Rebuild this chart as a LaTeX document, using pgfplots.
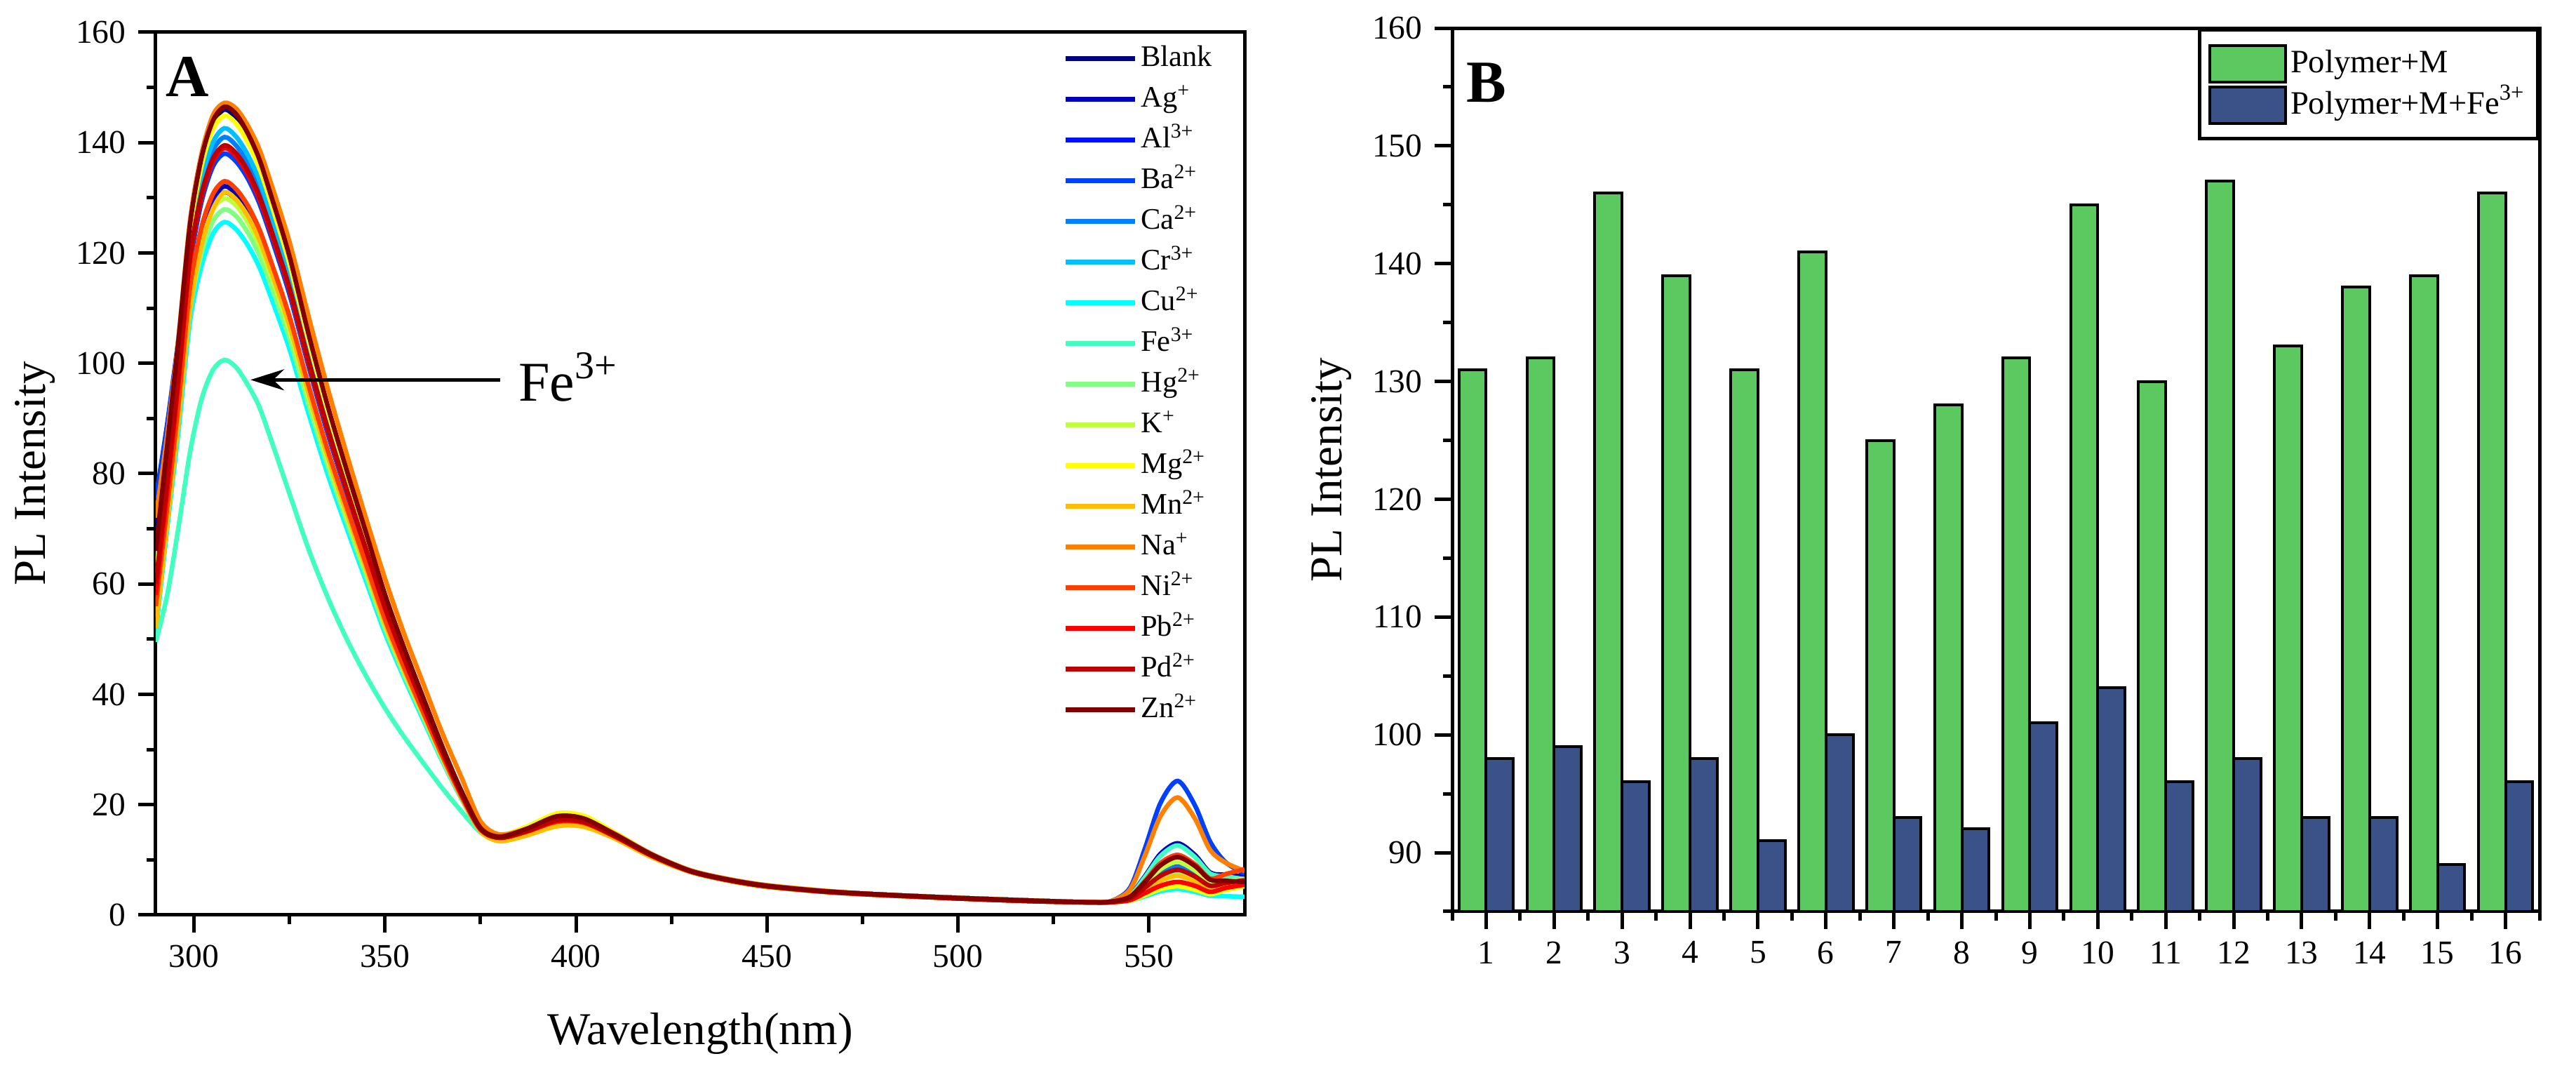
\documentclass[border=0pt]{standalone}
\usepackage{fontspec}
\setmainfont{Liberation Serif}
\usepackage{pgfplots}
\usepackage{pgfplotstable}
\pgfplotsset{compat=1.18}
\usetikzlibrary{arrows.meta}

\definecolor{cBlank}{HTML}{000080}
\definecolor{cAg}{HTML}{0000BF}
\definecolor{cAl}{HTML}{0010FF}
\definecolor{cBa}{HTML}{0040FF}
\definecolor{cCa}{HTML}{0080FF}
\definecolor{cCr}{HTML}{00BFFF}
\definecolor{cCu}{HTML}{00FFFF}
\definecolor{cFe}{HTML}{40FFBF}
\definecolor{cHg}{HTML}{80FF80}
\definecolor{cK}{HTML}{BFFF40}
\definecolor{cMg}{HTML}{FFFF00}
\definecolor{cMn}{HTML}{FFBF00}
\definecolor{cNa}{HTML}{FF8000}
\definecolor{cNi}{HTML}{FF4000}
\definecolor{cPb}{HTML}{FF0000}
\definecolor{cPd}{HTML}{BF0000}
\definecolor{cZn}{HTML}{800000}
\definecolor{bgreen}{HTML}{5CC860}
\definecolor{bblue}{HTML}{3B5288}

\pgfplotstableread{
x Blank Ag Al Ba Ca Cr Cu Fe Hg K Mg Mn Na Ni Pb Pd Zn
290 70 68 66 75.5 64 62 51 49.5 54 55 61 52 72 56 58 60 66
293 86 79 78 89 82 81 70 58 72 73 81 71 87 74 77 78.5 85
296 103.5 95 94 104.5 100.5 100.5 88 70.5 90 91.5 101.5 90 105 93 97 98 104.5
299 124.8 113.1 112.2 118.5 120.6 121.9 107.7 84 109.7 111.3 123.9 110 126 113.9 118.9 119.4 125.3
302 136.8 123.8 122.8 129.3 132.1 133.5 117.7 93.5 120 121.8 135.8 121.5 138 124.7 130.2 130.7 137.3
305 143.5 129.8 128.8 135.7 138.6 140.1 123.5 98.8 125.8 127.8 142.5 128 145 130.7 136.6 137.1 144
308 146 132.1 131 138 141 142.6 125.6 100.6 127.9 129.9 144.9 131 147.2 133 139 139.5 146.5
311 144.5 130.7 129.7 136.6 139.5 141.1 124.3 99.3 126.7 128.6 143.5 129.7 146.2 131.6 137.6 138.1 145.2
314 141.2 127.8 126.8 133.6 136.4 137.9 121.5 96.2 123.8 125.7 140.2 126.8 143.2 128.7 134.4 135 141.8
317 136.6 123.6 122.6 129.2 131.9 133.4 117.6 92.3 119.8 121.6 135.6 122.6 139 124.5 130 130.5 137.2
320 130.3 118 117.1 123.3 125.9 127.3 112.3 86.5 114.4 116.1 129.4 117.1 133 118.8 124.1 124.6 130.8
325 118.9 107.8 106.9 112.5 114.9 116.1 102.6 76.4 104.5 106.1 118 106.9 122 108.5 113.3 113.7 119.4
330 104.9 95.3 94.6 99.5 101.5 102.6 90.9 66.3 92.5 93.9 104.2 94.6 108.5 96 100.1 100.5 105.3
335 92 83.8 83.2 87.3 89 90 79.9 57.6 81.4 82.5 91.4 83.2 95.5 84.3 87.9 88.2 92.3
340 80.4 73.4 72.9 76.4 77.9 78.7 70.1 50.0 71.3 72.3 79.9 72.9 83.5 73.9 76.9 77.1 80.6
345 69.2 63.3 62.9 65.8 67.1 67.7 60.6 43.4 61.6 62.5 68.7 62.9 72 63.7 66.2 66.4 69.4
350 57.9 53.3 52.9 55.3 56.3 56.8 51.1 37.5 51.9 52.6 57.6 52.9 61 53.6 55.6 55.8 58.1
355 48.3 44.7 44.4 46.2 47 47.4 43 32.3 43.6 44.1 48 44.4 51 44.9 46.5 46.6 48.4
360 39.3 36.7 36.5 37.8 38.4 38.7 35.4 27.6 35.9 36.3 39.1 36.5 42 36.8 38 38.1 39.4
365 30.5 28.8 28.6 29.5 29.9 30.1 27.9 23 28.2 28.5 30.4 28.6 33 28.9 29.6 29.7 30.5
370 22.4 21.6 21.5 21.9 22.1 22.2 21.1 18.8 21.3 21.4 22.4 21.3 25 21.6 22 22 22.5
375 15.8 15.6 15.6 15.7 15.7 15.7 15.3 15 15.5 15.5 15.9 15.2 17 15.5 15.6 15.6 15.8
380 14.2 14.1 14.1 14.2 14.2 14.2 13.8 13.4 14.0 14.0 14.4 13.4 14.6 14.0 14.0 14.0 14.2
387 15.5 15.3 15.3 15.5 15.4 15.3 14.8 14.5 15.2 15.3 16.0 14.4 15.6 15.1 15.1 15.2 15.6
395 17.8 17.4 17.3 17.6 17.5 17.3 16.3 16.5 17.0 17.5 18.4 16.1 17.6 16.9 17.0 17.2 17.9
402 17.4 17.0 17.0 17.2 17.1 17.0 16.1 16.3 16.8 17.1 18.0 16.0 17.3 16.7 16.8 16.9 17.5
410 14.6 14.4 14.4 14.5 14.5 14.4 14.0 14.0 14.3 14.4 15.0 13.9 14.8 14.3 14.3 14.4 14.7
420 10.8 10.7 10.7 10.8 10.8 10.7 10.5 10.5 10.6 10.7 11.0 10.4 11.0 10.7 10.7 10.7 10.9
430 8.0 8.0 8.0 8.0 8.0 8.0 7.8 7.8 7.9 8.0 8.1 7.8 8.1 7.9 7.9 7.9 8.0
440 6.4 6.4 6.3 6.4 6.4 6.4 6.2 6.2 6.3 6.3 6.5 6.2 6.5 6.3 6.3 6.3 6.4
450 5.3 5.3 5.2 5.3 5.3 5.3 5.1 5.1 5.2 5.2 5.4 5.1 5.4 5.2 5.2 5.2 5.3
465 4.3 4.3 4.3 4.3 4.3 4.3 4.2 4.2 4.2 4.3 4.4 4.2 4.4 4.3 4.2 4.3 4.3
480 3.7 3.7 3.7 3.7 3.7 3.7 3.6 3.6 3.6 3.7 3.7 3.6 3.7 3.7 3.6 3.7 3.7
500 3.1 3.1 3.1 3.1 3.1 3.1 3.0 3.0 3.0 3.1 3.1 3.0 3.1 3.0 3.0 3.0 3.1
520 2.6 2.6 2.6 2.6 2.6 2.6 2.5 2.5 2.5 2.6 2.6 2.5 2.6 2.5 2.5 2.5 2.6
535 2.3 2.3 2.3 2.3 2.3 2.3 2.2 2.3 2.3 2.3 2.3 2.3 2.3 2.3 2.3 2.3 2.3
540 2.4 2.4 2.4 2.5 2.4 2.4 2.3 2.4 2.4 2.4 2.3 2.3 2.5 2.4 2.3 2.4 2.4
545 3.1 3.6 3.0 4.9 3.1 3.0 2.6 3.5 2.9 3.2 2.6 2.9 4.6 3.3 2.7 3.0 3.3
549 5.3 7.1 5.1 12.2 5.2 4.9 3.4 6.9 4.6 5.6 3.6 4.5 10.9 6.2 4.0 5.0 6.0
553 7.8 11.1 7.4 20.3 7.5 7.0 4.3 10.7 6.6 8.3 4.7 6.2 17.9 9.4 5.3 7.1 9.0
557.5 9.0 13.0 8.5 24.3 8.7 8.0 4.7 12.6 7.5 9.6 5.2 7.1 21.3 10.9 6.0 8.2 10.5
562 7.7 10.9 7.3 19.9 7.4 6.9 4.2 10.5 6.5 8.1 4.6 6.1 17.5 9.2 5.3 7.0 8.9
566 5.7 7.7 5.4 13.3 5.5 5.2 3.5 7.5 4.9 6.0 3.8 4.7 11.8 6.6 4.2 5.3 6.4
570 5.8 7.3 5.7 9.6 6.0 5.6 3.4 7.0 5.2 6.2 4.5 5.3 9.5 7.4 4.9 5.8 6.2
575 6.0 7.0 6.0 7.5 6.5 6.0 3.3 6.5 5.5 6.5 5.2 5.8 8.0 8.3 5.5 6.3 6.0
}\specA

\pgfplotstableread{
cat green blue
1 131 98
2 132 99
3 146 96
4 139 98
5 131 91
6 141 100
7 125 93
8 128 92
9 132 101
10 145 104
11 130 96
12 147 98
13 133 93
14 138 93
15 139 89
16 146 96
}\barsB

\pgfplotsset{
  myaxis/.style={
    scale only axis,
    axis line style={line width=1pt},
    tick style={line width=1pt, black},
    tick align=outside,
    major tick length=5pt,
    minor tick length=2.6pt,
    xtick pos=bottom, ytick pos=left,
    tick label style={font=\fontsize{9.5}{11}\selectfont},
    label style={font=\fontsize{13}{15}\selectfont},
    /pgf/number format/assume math mode=true,
  },
  specplot/.style={line width=1.3pt, smooth, tension=0.5},
  linelegend/.style={legend image code/.code={\draw[##1, line width=1.3pt] (0pt,0pt) -- (19.8pt,0pt);}},
  barlegend/.style={legend image code/.code={\draw[##1] (0pt,-5.2pt) rectangle (21.6pt,5.2pt);}},
}

\begin{document}
\begin{tikzpicture}
% ---------------- Panel A ----------------
\begin{axis}[myaxis,
  at={(44.4pt,43.6pt)}, anchor=south west,
  width=310.4pt, height=251.6pt,
  xmin=290, xmax=575, ymin=0, ymax=160,
  xtick={300,350,...,550}, minor xtick={325,375,425,475,525},
  ytick={0,20,...,160}, minor ytick={10,30,...,150},
  xlabel={Wavelength(nm)}, ylabel={PL Intensity},
  xlabel style={at={(axis description cs:0.5,-0.1463)}, anchor=base},
  ylabel style={at={(axis description cs:-0.111,0.5)}, anchor=center},
  legend style={at={(0.833,0.992)}, anchor=north west, draw=none, fill=none,
    font=\fontsize{8.5}{10}\selectfont, inner sep=0pt, row sep=1.1pt,
    nodes={inner sep=1pt, text height=6.5pt, text depth=2pt}},
  legend cell align=left,
  linelegend,
]
\addplot[specplot, cBlank] table[x=x, y=Blank] {\specA}; \addlegendentry{Blank}
\addplot[specplot, cAg] table[x=x, y=Ag] {\specA}; \addlegendentry{Ag\textsuperscript{+}}
\addplot[specplot, cAl] table[x=x, y=Al] {\specA}; \addlegendentry{Al\textsuperscript{3+}}
\addplot[specplot, cBa] table[x=x, y=Ba] {\specA}; \addlegendentry{Ba\textsuperscript{2+}}
\addplot[specplot, cCa] table[x=x, y=Ca] {\specA}; \addlegendentry{Ca\textsuperscript{2+}}
\addplot[specplot, cCr] table[x=x, y=Cr] {\specA}; \addlegendentry{Cr\textsuperscript{3+}}
\addplot[specplot, cCu] table[x=x, y=Cu] {\specA}; \addlegendentry{Cu\textsuperscript{2+}}
\addplot[specplot, cFe] table[x=x, y=Fe] {\specA}; \addlegendentry{Fe\textsuperscript{3+}}
\addplot[specplot, cHg] table[x=x, y=Hg] {\specA}; \addlegendentry{Hg\textsuperscript{2+}}
\addplot[specplot, cK] table[x=x, y=K] {\specA}; \addlegendentry{K\textsuperscript{+}}
\addplot[specplot, cMg] table[x=x, y=Mg] {\specA}; \addlegendentry{Mg\textsuperscript{2+}}
\addplot[specplot, cMn] table[x=x, y=Mn] {\specA}; \addlegendentry{Mn\textsuperscript{2+}}
\addplot[specplot, cNa] table[x=x, y=Na] {\specA}; \addlegendentry{Na\textsuperscript{+}}
\addplot[specplot, cNi] table[x=x, y=Ni] {\specA}; \addlegendentry{Ni\textsuperscript{2+}}
\addplot[specplot, cPb] table[x=x, y=Pb] {\specA}; \addlegendentry{Pb\textsuperscript{2+}}
\addplot[specplot, cPd] table[x=x, y=Pd] {\specA}; \addlegendentry{Pd\textsuperscript{2+}}
\addplot[specplot, cZn] table[x=x, y=Zn] {\specA}; \addlegendentry{Zn\textsuperscript{2+}}
\draw[-{Stealth[length=9.6pt,width=6pt]}, line width=1pt] (axis cs:380.1,97) -- (axis cs:314.8,97);
\node[anchor=west, inner sep=0pt, font=\fontsize{16}{16}\selectfont] at (axis cs:384.8,97.5) {Fe\textsuperscript{3+}};
\node[anchor=north west, inner sep=0pt, font=\fontsize{17}{17}\selectfont\bfseries] at (rel axis cs:0.0084,0.973) {A};
\end{axis}

% ---------------- Panel B ----------------
\begin{axis}[myaxis,
  at={(414pt,44.6pt)}, anchor=south west,
  width=310pt, height=251.8pt,
  xmin=0.5, xmax=16.5, ymin=85, ymax=160,
  ybar=0pt, bar width=7.75pt,
  xtick={1,...,16}, minor xtick={0.5,1.5,...,16.5},
  ytick={90,100,...,160}, minor ytick={85,95,...,155},
  ylabel={PL Intensity},
  ylabel style={at={(axis description cs:-0.111,0.5)}, anchor=center},
  legend style={at={(1,1)}, anchor=north east, draw=black, line width=1pt, fill=white,
    font=\fontsize{9.3}{11}\selectfont, inner xsep=2.5pt, inner ysep=4pt, row sep=0.6pt,
    nodes={inner sep=1pt, text height=7pt, text depth=2pt}},
  legend cell align=left,
]
\addplot[fill=bgreen, draw=black, line width=0.8pt, barlegend]
  table[x=cat, y=green] {\barsB};
\addlegendentry{Polymer+M}
\addplot[fill=bblue, draw=black, line width=0.8pt, barlegend]
  table[x=cat, y=blue] {\barsB};
\addlegendentry{Polymer+M+Fe\textsuperscript{3+}}
\node[anchor=north west, inner sep=0pt, font=\fontsize{17}{17}\selectfont\bfseries] at (rel axis cs:0.0129,0.961) {B};
\end{axis}
\pgfresetboundingbox
\useasboundingbox (0,0) rectangle (734.4pt,304.4pt);
\end{tikzpicture}
\end{document}
